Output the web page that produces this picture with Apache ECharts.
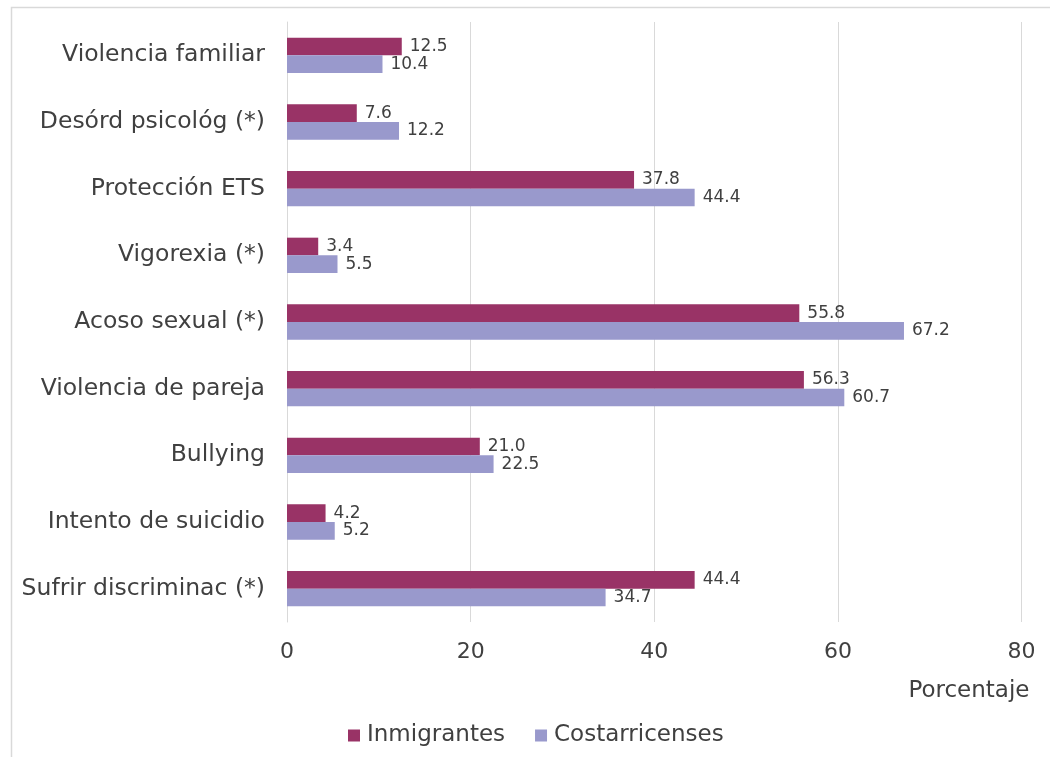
<!DOCTYPE html>
<html>
<head>
<meta charset="utf-8">
<script src="https://cdn.jsdelivr.net/npm/echarts@6/dist/echarts.min.js"></script>
<style>
  html, body { margin: 0; padding: 0; background: #fff; }
  #chart { width: 1050px; height: 757px; }
</style>
</head>
<body>
<div id="chart"></div>
<script>
// categorias, de arriba hacia abajo
var categories = ['Violencia familiar', 'Desórd psicológ (*)', 'Protección ETS', 'Vigorexia (*)',
    'Acoso sexual (*)', 'Violencia de pareja', 'Bullying', 'Intento de suicidio', 'Sufrir discriminac (*)'];
var inmigrantes = [12.5, 7.6, 37.8, 3.4, 55.8, 56.3, 21.0, 4.2, 44.4];
var costarricenses = [10.4, 12.2, 44.4, 5.5, 67.2, 60.7, 22.5, 5.2, 34.7];
var xTicks = [0, 20, 40, 60, 80];

var font = 'DejaVu Sans';
var textColor = '#404040';

var chart = echarts.init(document.getElementById('chart'));

function barSeries(name, data, color) {
    return {
        name: name,
        type: 'bar',
        data: data,
        barGap: '0%',
        barCategoryGap: '47%',
        itemStyle: { color: color },
        label: {
            show: true,
            position: 'right',
            distance: 8,
            color: textColor,
            fontFamily: font,
            fontSize: 17,
            formatter: function (p) {
                return Number(p.value).toFixed(1);
            }
        }
    };
}

var option = {
    animation: false,
    backgroundColor: '#fff',
    graphic: [{
        type: 'rect',
        left: 9,
        top: 5,
        shape: { width: 1100, height: 800 },
        style: { fill: 'none', stroke: '#d9d9d9', lineWidth: 1.5 }
    }],
    legend: {
        bottom: 5,
        left: 343,
        itemWidth: 12,
        itemHeight: 12,
        itemGap: 30,
        icon: 'rect',
        textStyle: { color: textColor, fontFamily: font, fontSize: 23, padding: [0, 0, 0, 2] },
        data: ['Inmigrantes', 'Costarricenses']
    },
    grid: {
        left: 287,
        right: 28.5,
        top: 22,
        bottom: 135,
        containLabel: false
    },
    xAxis: {
        type: 'value',
        min: xTicks[0],
        max: xTicks[xTicks.length - 1],
        interval: 20,
        name: 'Porcentaje',
        nameLocation: 'end',
        nameGap: 8,
        nameTextStyle: {
            color: textColor,
            fontFamily: font,
            fontSize: 23,
            align: 'right',
            verticalAlign: 'top',
            padding: [58, 0, 0, 0]
        },
        axisLine: { show: false },
        axisTick: { show: false },
        axisLabel: {
            margin: 19,
            color: textColor,
            fontFamily: font,
            fontSize: 22
        },
        splitLine: { lineStyle: { color: '#d9d9d9', width: 1 } }
    },
    yAxis: {
        type: 'category',
        inverse: true,
        data: categories,
        axisLine: { lineStyle: { color: '#d9d9d9' } },
        axisTick: { show: false },
        axisLabel: {
            margin: 22,
            color: textColor,
            fontFamily: font,
            fontSize: 23.5
        }
    },
    series: [
        barSeries('Inmigrantes', inmigrantes, '#993366'),
        barSeries('Costarricenses', costarricenses, '#9999cc')
    ]
};

chart.setOption(option);
</script>
</body>
</html>
